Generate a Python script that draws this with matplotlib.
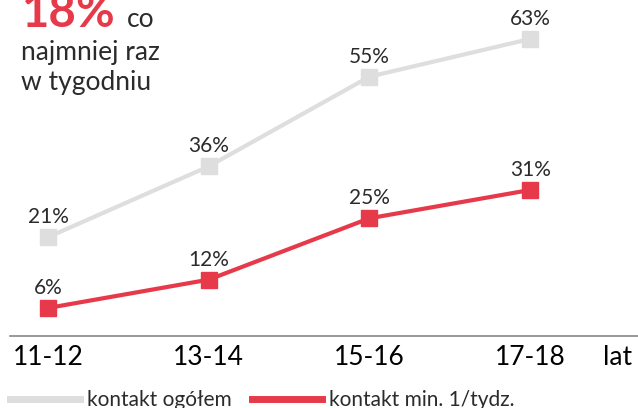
import matplotlib
matplotlib.use("Agg")
import matplotlib.pyplot as plt
from matplotlib.lines import Line2D

# dane
groups = ['11-12', '13-14', '15-16', '17-18']
overall = [21, 36, 55, 63]      # kontakt ogółem
weekly = [6, 12, 25, 31]        # kontakt min. 1/tydz.
series_names = ['kontakt ogółem', 'kontakt min. 1/tydz.']
unit_label = 'lat'

GRAY = '#DEDEDE'
RED = '#E63A4B'
TEXT = '#2B2B2B'

plt.rcParams['font.family'] = ['Lato', 'DejaVu Sans']

W, H = 638, 408
fig = plt.figure(figsize=(W / 100, H / 100), dpi=100)
ax = fig.add_axes([0, 0, 1, 1])

# mapowanie pikseli -> dane
x0, dx = 48, 160.7
y0, dy = 336.3, 4.72
ax.set_xlim(-x0 / dx, (W - x0) / dx)
ax.set_ylim((y0 - H) / dy, y0 / dy)
ax.axis('off')

xs = list(range(len(groups)))
ax.plot(xs, overall, color=GRAY, lw=3, marker='s', ms=11, zorder=2)
ax.plot(xs, weekly, color=RED, lw=3, marker='s', ms=11, zorder=3)

for x, v in zip(xs, overall):
    ax.annotate(f'{v}%', (x, v), xytext=(0, 10), textcoords='offset points',
                ha='center', va='baseline', fontsize=15, color=TEXT)
for x, v in zip(xs, weekly):
    ax.annotate(f'{v}%', (x, v), xytext=(0, 10), textcoords='offset points',
                ha='center', va='baseline', fontsize=15, color=TEXT)

# oś
ax.axhline(0, xmin=10 / W, xmax=1, color='#888888', lw=1.2, zorder=1)
for x, g in zip(xs, groups):
    ax.text(x, -4.4, g, ha='center', va='center', fontsize=19, color='black')
ax.text((618 - x0) / dx, -4.4, unit_label, ha='center', va='center',
        fontsize=19, color='black')

# nagłówek
fig.text(22 / W, 1 - 27 / H, '18%', fontsize=34, fontweight='bold',
         color=RED, va='baseline', ha='left')
fig.text(127 / W, 1 - 27 / H, 'co', fontsize=19, color=TEXT,
         va='baseline', ha='left')
fig.text(21 / W, 1 - 60 / H, 'najmniej raz', fontsize=19, color=TEXT,
         va='baseline', ha='left')
fig.text(21 / W, 1 - 90 / H, 'w tygodniu', fontsize=19, color=TEXT,
         va='baseline', ha='left')

# legenda
handles = [Line2D([], [], color=GRAY, lw=5), Line2D([], [], color=RED, lw=5)]
fig.legend(handles, series_names, loc='center left',
           bbox_to_anchor=(10 / W, 1 - 400 / H), ncol=2, frameon=False,
           fontsize=15, handlelength=3.35, handletextpad=0.34,
           columnspacing=1.0, borderpad=0, borderaxespad=0,
           labelcolor=TEXT)

plt.savefig('out.png', dpi=100)
